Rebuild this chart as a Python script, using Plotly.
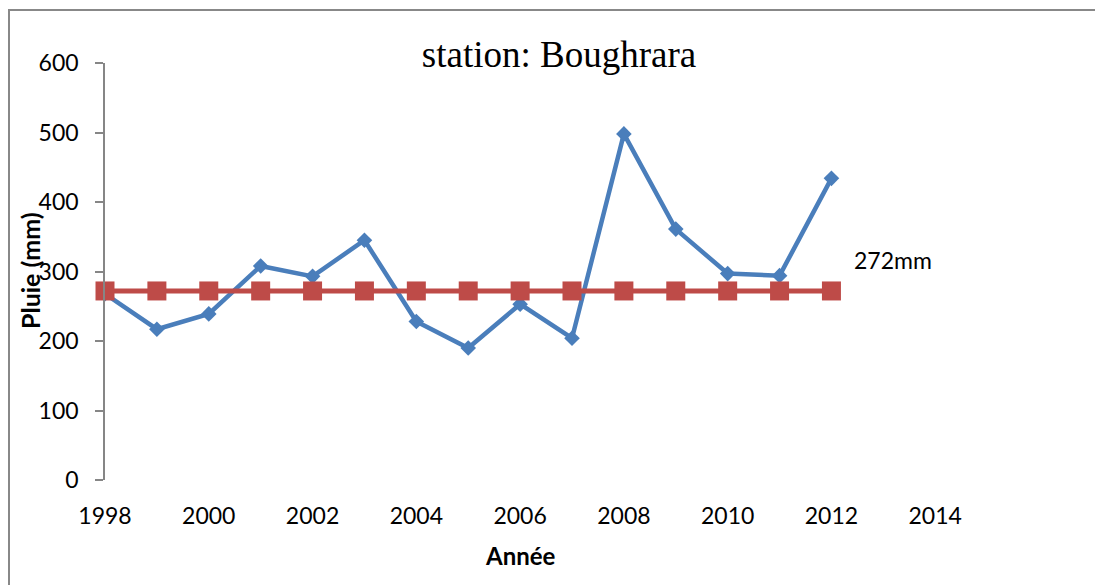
import plotly.graph_objects as go

years = [1998, 1999, 2000, 2001, 2002, 2003, 2004, 2005, 2006, 2007, 2008, 2009, 2010, 2011, 2012]
pluie = [268, 217, 239, 308, 293, 345, 228, 190, 253, 204, 498, 361, 297, 294, 434]
moyenne = [272] * len(years)
x_ticks = [1998, 2000, 2002, 2004, 2006, 2008, 2010, 2012, 2014]
y_ticks = [0, 100, 200, 300, 400, 500, 600]

OFF = 8  # page body margin
W, H = 1103 - OFF, 585 - OFF
L, R, T, B = 105 - OFF, 1103 - 1039, 63 - OFF, 585 - 480
pw, ph = W - L - R, H - T - B

def px2paper_x(px):
    return (px - OFF - L) / pw

def px2paper_y(py):
    return (H - B - (py - OFF)) / ph

fig = go.Figure()
fig.add_trace(go.Scatter(
    x=years, y=pluie, mode="lines+markers",
    line=dict(color="#4A7EBB", width=4.5),
    marker=dict(symbol="diamond", size=12, color="#4A7EBB"),
    showlegend=False, cliponaxis=False))
fig.add_trace(go.Scatter(
    x=years, y=moyenne, mode="lines+markers",
    line=dict(color="#BE4B48", width=5),
    marker=dict(symbol="square", size=19, color="#BE4B48"),
    showlegend=False, cliponaxis=False))

tickfont = dict(family="Lato", size=23, color="#000000")
fig.update_layout(
    width=W, height=H,
    margin=dict(l=L, r=R, t=T, b=B, autoexpand=False),
    paper_bgcolor="white", plot_bgcolor="white",
    title=dict(text="station: Boughrara", x=(559 - OFF) / W, xanchor="center",
               y=1 - (54 - OFF) / H, yanchor="middle",
               font=dict(family="Liberation Serif", size=37, color="#000000")),
    xaxis=dict(range=[1998, 2016], tickvals=x_ticks, showgrid=False, zeroline=False,
               showline=False, ticks="", tickfont=tickfont, ticklabelstandoff=20),
    yaxis=dict(range=[0, 600], tickvals=y_ticks, showgrid=False, zeroline=False,
               showline=True, linecolor="#868686", linewidth=1.5,
               ticks="outside", ticklen=8, tickcolor="#868686", tickwidth=1.5,
               tickfont=tickfont, ticklabelstandoff=12),
    annotations=[
        dict(text="272mm", x=2012.4, y=317, xref="x", yref="y", xanchor="left",
             yanchor="middle", showarrow=False, font=tickfont),
        dict(text="<b>Année</b>", x=px2paper_x(520), y=px2paper_y(555), xref="paper", yref="paper",
             xanchor="center", yanchor="middle", showarrow=False,
             font=dict(family="Lato", size=24, color="#000000")),
        dict(text="<b>Pluie (mm)</b>", x=px2paper_x(30), y=px2paper_y(271), xref="paper", yref="paper",
             xanchor="center", yanchor="middle", textangle=-90, showarrow=False,
             font=dict(family="Lato", size=25, color="#000000")),
    ],
    shapes=[
        dict(type="line", xref="paper", yref="paper", x0=px2paper_x(8), x1=px2paper_x(1110),
             y0=px2paper_y(10), y1=px2paper_y(10), line=dict(color="#888888", width=2)),
        dict(type="line", xref="paper", yref="paper", x0=px2paper_x(9), x1=px2paper_x(9),
             y0=px2paper_y(10), y1=px2paper_y(600), line=dict(color="#888888", width=2)),
    ],
)

fig.write_html("out.html")
